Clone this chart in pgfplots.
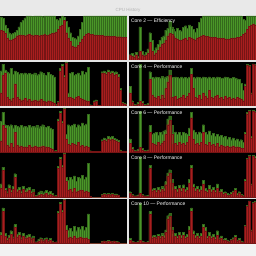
\documentclass[border=0pt]{standalone}
\usepackage{pgfplots}
\usepackage{pgfplotstable}
\usepackage{fontspec}
\setmainfont{Liberation Sans}
\pgfplotsset{compat=1.18}
\definecolor{cgreen}{RGB}{74,150,40}
\definecolor{cred}{RGB}{168,30,30}
\definecolor{winbg}{RGB}{228,228,228}
\definecolor{titlebg}{RGB}{233,233,233}
\definecolor{botbg}{RGB}{242,242,242}

% columns: t = total load (%), r = system/red part (%)
\pgfplotstableread[row sep=\\]{t r\\98 68\\95 66\\80 60\\72 50\\62 46\\58 45\\60 47\\63 50\\68 55\\75 56\\85 57\\90 56\\96 55\\100 57\\100 58\\100 56\\99 55\\100 57\\100 56\\100 55\\100 56\\98 57\\100 58\\100 56\\100 57\\100 59\\100 60\\100 62\\92 64\\90 70\\95 76\\100 80\\98 90\\88 62\\75 50\\62 42\\52 32\\50 30\\48 30\\55 33\\70 40\\85 48\\100 55\\100 58\\100 60\\100 58\\100 58\\100 57\\100 57\\100 56\\100 56\\100 56\\100 55\\100 55\\100 55\\100 54\\100 54\\100 54\\100 53\\100 53\\100 53\\100 52\\100 52\\100 52\\}\Lone
\pgfplotstableread[row sep=\\]{t r\\12 10\\15 8\\10 6\\18 12\\8 5\\75 20\\20 12\\12 8\\18 10\\25 15\\62 40\\45 20\\22 12\\28 16\\35 22\\45 30\\52 35\\55 38\\68 45\\72 55\\88 60\\75 58\\70 55\\65 50\\72 48\\68 45\\66 44\\74 48\\78 50\\72 46\\80 52\\76 50\\70 48\\64 46\\72 50\\85 52\\96 55\\100 56\\100 55\\100 54\\100 53\\100 52\\100 52\\100 51\\100 50\\100 50\\100 49\\100 49\\100 48\\100 48\\100 48\\100 49\\100 50\\100 50\\100 51\\100 52\\100 54\\92 58\\90 62\\100 70\\100 76\\100 80\\100 82\\100 80\\}\Rone
\pgfplotstableread[row sep=\\]{t r\\80 30\\95 70\\82 75\\78 20\\74 15\\85 12\\72 18\\80 50\\76 20\\72 15\\74 12\\73 14\\75 18\\72 12\\74 15\\73 10\\72 12\\75 14\\70 10\\72 12\\78 15\\74 12\\71 10\\70 8\\76 12\\72 10\\70 8\\66 6\\4 2\\10 8\\85 80\\95 90\\70 65\\100 98\\30 20\\74 20\\76 18\\70 15\\72 20\\75 22\\70 18\\80 15\\72 14\\76 12\\88 10\\3 2\\2 1\\12 8\\14 10\\2 1\\2 1\\78 74\\80 75\\76 72\\82 76\\78 73\\80 75\\76 70\\78 72\\72 66\\40 35\\8 6\\6 4\\5 3\\}\Ltwo
\pgfplotstableread[row sep=\\]{t r\\45 30\\12 8\\5 3\\3 2\\8 4\\95 10\\10 6\\4 2\\3 2\\6 3\\78 60\\65 25\\64 20\\66 18\\65 22\\63 15\\67 25\\64 18\\66 40\\68 55\\82 70\\65 20\\64 18\\66 22\\65 15\\63 18\\66 20\\64 25\\65 18\\63 22\\66 30\\85 72\\65 40\\64 20\\66 18\\65 25\\63 15\\66 30\\65 22\\64 18\\66 35\\63 20\\65 18\\64 22\\66 25\\65 18\\63 20\\64 15\\66 22\\65 18\\64 20\\63 15\\65 18\\64 15\\62 20\\60 18\\52 15\\35 12\\50 45\\95 92\\92 90\\30 28\\96 94\\94 92\\}\Rtwo
\pgfplotstableread[row sep=\\]{t r\\70 25\\90 60\\62 55\\60 15\\58 12\\62 20\\55 10\\60 45\\58 15\\56 12\\60 14\\57 10\\59 12\\56 10\\60 15\\57 12\\58 10\\56 14\\60 12\\55 10\\58 12\\62 14\\57 10\\56 12\\58 10\\55 8\\52 6\\3 1\\4 2\\75 70\\92 88\\70 65\\100 98\\40 30\\62 18\\58 15\\60 20\\64 18\\56 15\\62 22\\58 14\\66 15\\60 12\\64 14\\86 10\\3 1\\2 1\\2 1\\2 1\\2 1\\2 1\\28 24\\32 27\\30 25\\36 30\\33 28\\35 29\\31 26\\30 25\\26 22\\5 3\\2 1\\2 1\\2 1\\}\Lthree
\pgfplotstableread[row sep=\\]{t r\\30 20\\10 6\\5 3\\3 2\\6 3\\92 10\\8 5\\4 2\\3 2\\5 3\\60 45\\40 20\\42 18\\45 15\\38 22\\44 16\\40 20\\48 25\\50 40\\75 62\\82 72\\60 40\\42 18\\46 20\\40 15\\44 22\\38 18\\45 20\\42 16\\40 22\\55 35\\90 78\\50 30\\44 18\\40 20\\46 16\\42 22\\62 45\\44 18\\40 15\\48 22\\38 16\\42 18\\36 14\\40 20\\35 12\\38 16\\34 14\\36 12\\30 14\\34 10\\28 12\\32 14\\26 10\\30 12\\25 10\\28 8\\22 8\\45 40\\90 87\\94 92\\35 32\\95 92\\93 90\\}\Rthree
\pgfplotstableread[row sep=\\]{t r\\30 20\\68 60\\20 15\\12 8\\28 20\\15 10\\24 18\\53 45\\18 12\\22 15\\14 8\\25 18\\16 10\\20 12\\22 15\\14 8\\18 10\\4 2\\3 2\\10 4\\14 6\\8 4\\12 6\\15 8\\10 5\\13 6\\8 4\\3 1\\4 2\\70 65\\90 85\\72 68\\100 98\\45 35\\38 15\\44 18\\40 12\\48 20\\36 12\\44 14\\42 16\\50 15\\40 12\\46 14\\76 10\\2 1\\0 0\\0 0\\0 0\\0 0\\0 0\\6 5\\8 6\\7 5\\8 6\\7 5\\8 6\\6 4\\7 5\\5 4\\0 0\\0 0\\0 0\\0 0\\}\Lfour
\pgfplotstableread[row sep=\\]{t r\\12 8\\6 4\\3 2\\3 2\\5 3\\90 8\\6 4\\3 2\\3 2\\4 2\\72 65\\18 14\\20 15\\15 10\\22 16\\18 12\\24 18\\20 14\\35 28\\55 48\\62 55\\40 32\\22 15\\25 18\\18 12\\26 20\\20 14\\28 20\\18 12\\22 16\\40 32\\72 65\\30 22\\20 14\\25 18\\18 12\\24 16\\38 30\\20 14\\16 10\\26 18\\18 12\\22 15\\15 10\\30 20\\14 10\\18 12\\10 6\\12 8\\8 5\\6 4\\10 6\\14 10\\20 15\\8 5\\12 8\\6 4\\4 2\\40 36\\88 85\\95 92\\30 28\\95 92\\92 88\\}\Rfour
\pgfplotstableread[row sep=\\]{t r\\25 18\\80 72\\22 16\\10 6\\18 12\\28 20\\14 10\\42 36\\20 14\\24 18\\12 8\\22 16\\14 10\\18 12\\20 14\\12 8\\16 10\\3 2\\3 2\\8 4\\12 8\\6 4\\10 6\\12 8\\7 4\\10 6\\5 3\\2 1\\3 2\\72 68\\92 88\\75 70\\100 98\\40 30\\30 12\\34 14\\26 10\\38 16\\28 10\\35 12\\32 14\\38 12\\30 10\\36 12\\66 8\\0 0\\0 0\\0 0\\0 0\\0 0\\0 0\\4 3\\5 4\\4 3\\6 4\\5 4\\4 3\\5 4\\4 3\\3 2\\0 0\\0 0\\0 0\\0 0\\}\Lfive
\pgfplotstableread[row sep=\\]{t r\\10 6\\5 3\\3 2\\2 1\\4 2\\90 6\\5 3\\3 2\\2 1\\4 2\\72 66\\16 12\\18 14\\14 10\\20 15\\16 12\\22 16\\18 12\\30 24\\62 55\\67 60\\36 30\\20 14\\22 16\\16 10\\24 18\\18 12\\25 18\\16 10\\20 14\\38 30\\80 72\\28 20\\18 12\\22 16\\16 10\\22 15\\42 35\\35 28\\15 10\\24 16\\16 10\\20 14\\14 9\\28 18\\12 8\\16 10\\9 6\\11 7\\7 5\\5 3\\9 6\\12 8\\18 13\\7 5\\10 7\\5 3\\3 2\\40 38\\86 84\\96 94\\30 28\\93 90\\95 92\\}\Rfive

\pgfplotsset{cpu/.style={scale only axis, width=127pt, height=44pt,
  xmin=-0.5, xmax=63.5, ymin=0, ymax=100,
  axis line style={draw=none}, xtick=\empty, ytick=\empty,
  axis background/.style={fill=black}, anchor=north west}}

\newcommand{\panel}[3]{%
\begin{axis}[cpu, at={#1}]
\addplot[ybar, bar width=1.98pt, bar shift=0pt, fill=cgreen, draw=cgreen!70!black, line width=0.3pt] table[x expr=\coordindex, y=t] {#2};
\addplot[ybar, bar width=1.98pt, bar shift=0pt, fill=cred, draw=cred!70!black, line width=0.3pt] table[x expr=\coordindex, y=r] {#2};
\node[anchor=north west, inner sep=0pt, text=white, font=\fontsize{5}{6}\selectfont] at (rel axis cs:0.015,0.93) {#3};
\end{axis}}

\begin{document}
\begin{tikzpicture}
\fill[winbg] (0pt,0pt) rectangle (256pt,-256pt);
\fill[titlebg] (0pt,0pt) rectangle (256pt,-16pt);
\fill[botbg] (0pt,-244pt) rectangle (256pt,-256pt);
\node[text=black!30, font=\fontsize{4.5}{5}\selectfont] at (128pt,-10pt) {CPU History};
\panel{(0pt,-16pt)}{\Lone}{}
\panel{(129pt,-16pt)}{\Rone}{Core 2 — Efficiency}
\panel{(0pt,-62pt)}{\Ltwo}{}
\panel{(129pt,-62pt)}{\Rtwo}{Core 4 — Performance}
\panel{(0pt,-108pt)}{\Lthree}{}
\panel{(129pt,-108pt)}{\Rthree}{Core 6 — Performance}
\panel{(0pt,-153pt)}{\Lfour}{}
\panel{(129pt,-153pt)}{\Rfour}{Core 8 — Performance}
\panel{(0pt,-199pt)}{\Lfive}{}
\panel{(129pt,-199pt)}{\Rfive}{Core 10 — Performance}
\end{tikzpicture}
\end{document}
